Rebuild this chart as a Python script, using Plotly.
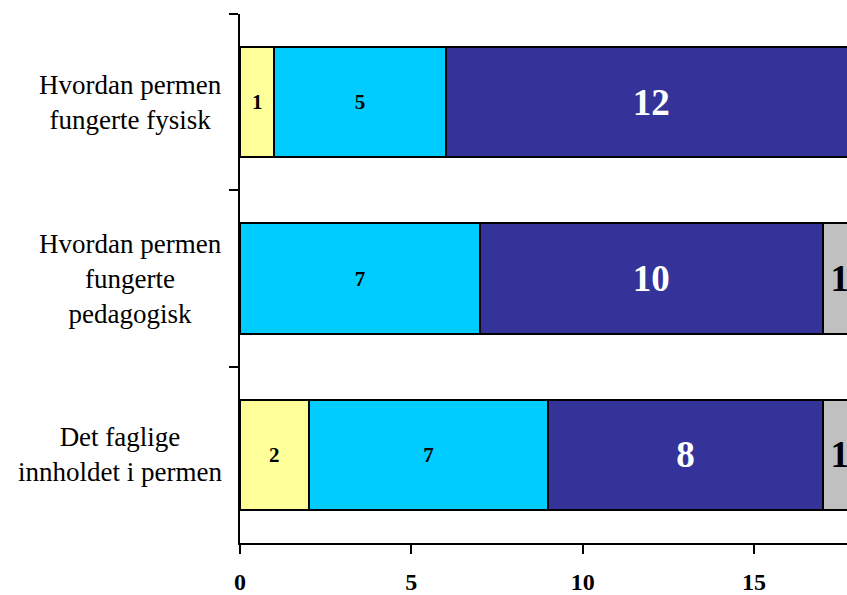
import plotly.graph_objects as go

# Evaluation questions, listed top to bottom
categories = [
    "Hvordan permen<br>fungerte fysisk",
    "Hvordan permen<br>fungerte<br>pedagogisk",
    "Det faglige<br>innholdet i permen",
]

# Number of answers per response level (None = no answers)
level_1 = [1, None, 2]
level_2 = [5, 7, 7]
level_3 = [12, 10, 8]
level_4 = [None, 1, 1]

series_names = ["Middels", "Bra", "Svært bra", "Vet ikke"]
series_values = [level_1, level_2, level_3, level_4]
series_colors = ["#FFFF99", "#00CCFF", "#333399", "#C0C0C0"]
label_colors = ["black", "black", "white", "black"]
label_sizes = [21, 21, 37, 37]

x_ticks = [0, 5, 10, 15]

SERIF = "Liberation Serif"

fig = go.Figure()
for name, vals, col, lcol, lsize in zip(series_names, series_values, series_colors,
                                         label_colors, label_sizes):
    fig.add_trace(go.Bar(
        y=categories,
        x=vals,
        name=name,
        orientation="h",
        marker=dict(color=col, line=dict(color="black", width=2)),
        text=[("" if v is None else str(v)) for v in vals],
        textposition="inside",
        insidetextanchor="middle",
        textangle=0,
        textfont=dict(family=SERIF, size=lsize, color=lcol, weight="bold"),
        cliponaxis=True,
        width=0.626,
    ))

# Category labels as centred multi-line text left of the axis
for cat in categories:
    fig.add_annotation(
        x=0, xref="x", xanchor="right", xshift=-16,
        y=cat, yref="y", yanchor="middle",
        text=cat, showarrow=False, align="center",
        font=dict(family=SERIF, size=27, color="black"),
    )

fig.update_layout(
    barmode="stack",
    width=847, height=595,
    margin=dict(l=240, r=0, t=14, b=48),
    plot_bgcolor="white", paper_bgcolor="white",
    showlegend=False,
)
fig.update_xaxes(
    range=[0, 17.71],
    tickvals=x_ticks,
    showgrid=False, zeroline=False,
    showline=True, linecolor="black", linewidth=2,
    ticks="outside", ticklen=9, tickwidth=2, tickcolor="black",
    ticklabelstandoff=7,
    tickfont=dict(family=SERIF, size=24, color="black", weight="bold"),
)
fig.update_yaxes(
    type="category",
    categoryorder="array", categoryarray=categories,
    range=[2.5, -0.5],
    showgrid=False, zeroline=False,
    showline=True, linecolor="black", linewidth=2,
    ticks="outside", ticklen=9, tickwidth=2, tickcolor="black",
    tickson="boundaries",
    showticklabels=False,
)

fig.write_html("out.html")
